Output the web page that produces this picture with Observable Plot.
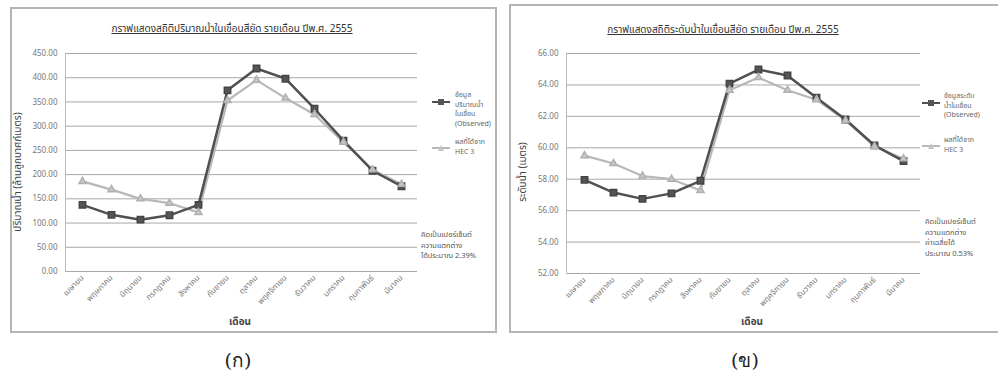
<!DOCTYPE html>
<html><head><meta charset="utf-8">
<script src="https://cdn.jsdelivr.net/npm/d3@7"></script>
<script src="https://cdn.jsdelivr.net/npm/@observablehq/plot@0.6"></script>
<style>
body{margin:0;background:#fff;font-family:"Noto Sans Thai","Noto Sans","DejaVu Sans",sans-serif;}
#page{position:relative;width:998px;height:381px;overflow:hidden;background:#fff;}
.abs{position:absolute;white-space:nowrap;}
.panel{position:absolute;border:2px solid #b4b4b4;box-sizing:border-box;}
.title{font-size:10px;color:#333;text-decoration:underline;transform:translate(-50%,-50%);}
.leg{font-size:7px;color:#666;line-height:9.5px;}
.note{font-size:7.5px;color:#555;line-height:10.5px;}
.axl{font-size:10px;color:#444;transform:translate(-50%,-50%);}
.cap{font-size:19px;color:#222;font-family:"DejaVu Serif","Liberation Serif",serif;transform:translate(-50%,-50%);}
</style></head>
<body><div id="page"></div>
<script>
const months = ["เมษายน","พฤษภาคม","มิถุนายน","กรกฎาคม","สิงหาคม","กันยายน","ตุลาคม","พฤศจิกายน","ธันวาคม","มกราคม","กุมภาพันธ์","มีนาคม"];
const volObserved = [137.5,117,107,116,137.5,374,419,398,336,270,208,176];
const volHEC = [186,169,150,141,122,353,395,358,324,267,210,180];
const levelObserved = [57.96,57.15,56.75,57.1,57.9,64.08,64.98,64.6,63.19,61.8,60.15,59.15];
const levelHEC = [59.5,59.0,58.2,58.0,57.28,63.66,64.47,63.66,63.06,61.74,60.08,59.3];
const volTicks = [0,50,100,150,200,250,300,350,400,450];
const levelTicks = [52,54,56,58,60,62,64,66];

const page = document.getElementById("page");
function add(cls, text, x, y, extra){
  const d = document.createElement("div");
  d.className = "abs " + cls;
  d.style.left = x + "px"; d.style.top = y + "px";
  if (extra) Object.assign(d.style, extra);
  d.innerHTML = text;
  page.appendChild(d);
  return d;
}
function panel(x,y,w,h){
  const d = document.createElement("div");
  d.className = "panel";
  Object.assign(d.style,{left:x+"px",top:y+"px",width:w+"px",height:h+"px"});
  page.appendChild(d);
}
function chart(obs, hec, ticks, domain, box){
  const rows = [];
  months.forEach((m,i)=>{rows.push({m, v:obs[i], s:"obs"}); rows.push({m, v:hec[i], s:"hec"});});
  const p = Plot.plot({
    width: box.w, height: box.h,
    marginTop: box.mt, marginBottom: box.mb, marginLeft: box.ml, marginRight: box.mr,
    style:{fontFamily:'"Noto Sans Thai","Noto Sans","DejaVu Sans",sans-serif', fontSize:"8px", color:"#777", background:"transparent", overflow:"visible"},
    x:{type:"point", domain: months, padding:0.5, label:null},
    y:{domain, label:null},
    marks:[
      Plot.gridY(ticks, {stroke:"#a8a8a8", strokeOpacity:1, strokeWidth:1}),
      Plot.frame({anchor:"left", stroke:"#bbb"}),
      Plot.axisY(ticks, {tickFormat: d3.format(".2f"), tickSize:0, tickPadding:8, label:null}),
      Plot.axisX({tickRotate:-45, tickSize:0, tickPadding:5, label:null, fontSize:8}),
      Plot.lineY(rows.filter(d=>d.s==="hec"), {x:"m", y:"v", stroke:"#b8b8b8", strokeWidth:2.2}),
      Plot.lineY(rows.filter(d=>d.s==="obs"), {x:"m", y:"v", stroke:"#505050", strokeWidth:2.5}),
      Plot.dot(rows.filter(d=>d.s==="obs"), {x:"m", y:"v", symbol:"square", r:3.6, fill:"#555", stroke:"#444"}),
      Plot.dot(rows.filter(d=>d.s==="hec"), {x:"m", y:"v", symbol:"triangle", r:2.6, fill:"#c8c8c8", stroke:"#b0b0b0"})
    ]
  });
  p.style.position = "absolute"; p.style.left = box.x + "px"; p.style.top = box.y + "px";
  page.appendChild(p);
}
function legendLine(x,y,color,sym){
  const s = sym==="sq" ? `<rect x="6" y="-3" width="6" height="6" fill="#555"/>` : `<path d="M9,-3 L12,3 L6,3 Z" fill="#c4c4c4"/>`;
  const d = document.createElement("div");
  d.className="abs"; d.style.left=x+"px"; d.style.top=(y-6)+"px";
  d.innerHTML = `<svg width="20" height="12"><g transform="translate(0,6)"><line x1="0" x2="18" y1="0" y2="0" stroke="${color}" stroke-width="2"/>${s}</g></svg>`;
  page.appendChild(d);
}

panel(10,7,487,326);
panel(509,4,495,329);

chart(volObserved, volHEC, volTicks, [0,450], {x:10,y:8,w:486,h:325,mt:45,mb:62,ml:55,mr:79});
chart(levelObserved, levelHEC, levelTicks, [52,66], {x:509,y:5,w:489,h:328,mt:48,mb:60,ml:57,mr:78});

add("title","กราฟแสดงสถิติปริมาณน้ำในเขื่อนสียัด รายเดือน ปีพ.ศ. 2555",232,29);
add("title","กราฟแสดงสถิติระดับน้ำในเขื่อนสียัด รายเดือน ปีพ.ศ. 2555",723,30);
add("axl","ปริมาณน้ำ (ล้านลูกบาศก์เมตร)",18,172,{transform:"translate(-50%,-50%) rotate(-90deg)"});
add("axl","ระดับน้ำ (เมตร)",523,172,{transform:"translate(-50%,-50%) rotate(-90deg)"});
add("axl","<b>เดือน</b>",240,322);
add("axl","<b>เดือน</b>",752,322);

legendLine(432,97,"#505050","sq");
add("leg","ข้อมูล<br>ปริมาณน้ำ<br>ในเขื่อน<br>(Observed)",455,91);
legendLine(432,143,"#b8b8b8","tri");
add("leg","ผลที่ได้จาก<br>HEC 3",455,138);
add("note","คิดเป็นเปอร์เซ็นต์<br>ความแตกต่าง<br>ได้ประมาณ 2.39%",421,230);

legendLine(922,98,"#505050","sq");
add("leg","ข้อมูลระดับ<br>น้ำในเขื่อน<br>(Observed)",944,92);
legendLine(922,141,"#b8b8b8","tri");
add("leg","ผลที่ได้จาก<br>HEC 3",944,136);
add("note","คิดเป็นเปอร์เซ็นต์<br>ความแตกต่าง<br>ค่าเฉลี่ยได้<br>ประมาณ 0.53%",925,217);

add("cap","(ก)",238,360);
add("cap","(ข)",745,360);
</script></body></html>
